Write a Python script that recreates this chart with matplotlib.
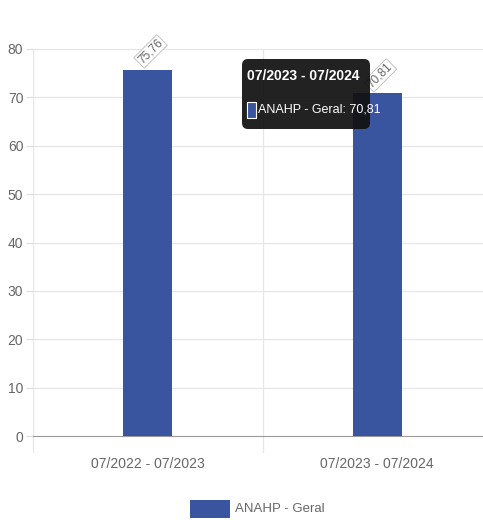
import matplotlib.pyplot as plt
from matplotlib.patches import FancyBboxPatch, Rectangle
from matplotlib import font_manager

categories = ["07/2022 - 07/2023", "07/2023 - 07/2024"]
values = [75.76, 70.81]
labels = ["75,76", "70,81"]
series_name = "ANAHP - Geral"
yticks = [0, 10, 20, 30, 40, 50, 60, 70, 80]

names = {f.name for f in font_manager.fontManager.ttflist}
fam = "Liberation Sans Narrow" if "Liberation Sans Narrow" in names else "Liberation Sans"
plt.rcParams['font.family'] = [fam, 'DejaVu Sans']

W, H = 483, 520
fig = plt.figure(figsize=(W / 100, H / 100), dpi=100)
# axes box in pixels: left 33, right 492 (past edge), top 49 (=80), bottom 436 (=0)
ax = fig.add_axes([33 / W, (H - 436) / H, (492 - 33) / W, (436 - 49) / H])
ax.set_xlim(-0.5, 1.5)
ax.set_ylim(0, 80)

bar_color = "#3a559f"
x = list(range(len(categories)))
ax.bar(x, values, width=0.215, color=bar_color, zorder=3)

for s in ["top", "right", "left"]:
    ax.spines[s].set_visible(False)
ax.spines["bottom"].set_color("#9a9a9a")
ax.set_yticks(yticks)
ax.tick_params(axis="y", length=5, color="#dddddd", labelsize=10, labelcolor="#666666", pad=2)
for t in yticks[1:]:
    ax.axhline(t, color="#e6e6e6", lw=0.9, zorder=0)
ax.axvline(-0.5, color="#e6e6e6", lw=0.9, zorder=0)
ax.axvline(0.5, color="#e6e6e6", lw=0.9, zorder=0)

ax.set_xticks(x)
ax.set_xticklabels(categories)
ax.tick_params(axis="x", length=0, labelsize=10, labelcolor="#666666", pad=15)
# category boundary ticks below the axis
for b in [-0.5, 0.5]:
    ax.plot([b, b], [0, -3.4], color="#e6e6e6", lw=0.9, clip_on=False, zorder=0)

for xi, v, lab in zip(x, values, labels):
    ax.annotate(lab, (xi, v), xytext=(2, 13), textcoords="offset points",
                rotation=45, ha="center", va="center", fontsize=8.5, color="#666666",
                bbox=dict(boxstyle="square,pad=0.12", fc="white", ec="#bbbbbb", lw=0.6),
                zorder=4)

# tooltip
tip = FancyBboxPatch((242 / W, (H - 129) / H), 128 / W, 70 / H,
                     boxstyle="round,pad=0,rounding_size=0.012",
                     transform=fig.transFigure, fc="#111111", ec="none", alpha=0.93, zorder=10)
fig.patches.append(tip)
fig.text(247 / W, (H - 76) / H, categories[1], color="white", fontsize=10,
         fontweight="bold", va="center", ha="left", zorder=11)
fig.patches.append(Rectangle((247 / W, (H - 118) / H), 9 / W, 16 / H, transform=fig.transFigure,
                             fc=bar_color, ec="white", lw=0.8, zorder=11))
fig.text(258 / W, (H - 110) / H, "%s: %s" % (series_name, labels[1]), color="white",
         fontsize=9, va="center", ha="left", zorder=11)

# legend
fig.patches.append(Rectangle((190 / W, (H - 518) / H), 40 / W, 18 / H, transform=fig.transFigure,
                             fc=bar_color, ec="none"))
fig.text(235 / W, (H - 509) / H, series_name, color="#666666", fontsize=9.5, va="center", ha="left")

fig.savefig("out.png", dpi=100)
